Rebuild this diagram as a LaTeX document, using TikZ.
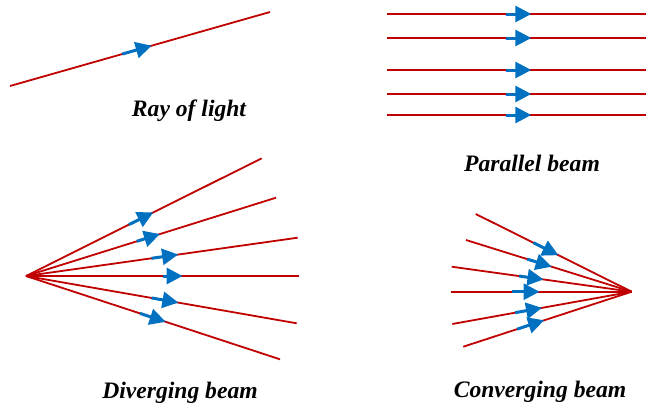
\documentclass[tikz,border=0pt]{standalone}
\usepackage{fontspec}
\setmainfont{Liberation Serif}
\usetikzlibrary{arrows.meta,calc}
\definecolor{rayred}{HTML}{C00000}
\definecolor{arrblue}{HTML}{0070C0}
\tikzset{
  ray/.style={draw=rayred, line width=1.8pt},
  dirarrow/.style={draw=arrblue, line width=3pt, -{Triangle[length=16pt,width=16pt]}},
  caption/.style={font=\fontsize{23.6}{26}\selectfont\bfseries\itshape, anchor=base, inner sep=0pt}
}
\newcommand{\raywitharrow}[4]{%
  % #1 start, #2 end, #3 tail fraction, #4 tip fraction
  \draw[ray] (#1) -- (#2);
  \draw[dirarrow] ($(#1)!#3!(#2)$) -- ($(#1)!#4!(#2)$);
}
\begin{document}
\begin{tikzpicture}[x=1pt,y=-1pt]
\useasboundingbox (0,0) rectangle (646,408);

% Ray of light
\coordinate (r0) at (10,86);
\coordinate (r1) at (270,12);
\raywitharrow{r0}{r1}{0.432}{0.545}
\node[caption] (lray) at (189,116.5) {Ray of light};

% Parallel beam
\foreach \i/\y in {1/14,2/38,3/70,4/94,5/115}{
  \coordinate (p\i a) at (387,\y);
  \coordinate (p\i b) at (646,\y);
  \raywitharrow{p\i a}{p\i b}{0.459}{0.557}
}
\node[caption] (lpar) at (532,171.5) {Parallel beam};

% Diverging beam
\coordinate (dA) at (26,276);
\coordinate (d1) at (261.7,158.3);
\coordinate (d2) at (276,197.7);
\coordinate (d3) at (297.7,237.7);
\coordinate (d4) at (299.3,276);
\coordinate (d5) at (296.7,323.3);
\coordinate (d6) at (280,359.3);
\raywitharrow{dA}{d1}{0.437}{0.54}
\raywitharrow{dA}{d2}{0.443}{0.536}
\raywitharrow{dA}{d3}{0.462}{0.56}
\raywitharrow{dA}{d4}{0.50}{0.573}
\raywitharrow{dA}{d5}{0.464}{0.563}
\raywitharrow{dA}{d6}{0.449}{0.55}
\node[caption] (ldiv) at (180,398) {Diverging beam};

% Converging beam
\coordinate (cA) at (631.7,291.7);
\coordinate (c1) at (475.7,214);
\coordinate (c2) at (466,240);
\coordinate (c3) at (451.7,266.7);
\coordinate (c4) at (451,291.7);
\coordinate (c5) at (452.3,324);
\coordinate (c6) at (463.3,346.7);
\raywitharrow{c1}{cA}{0.37}{0.53}
\raywitharrow{c2}{cA}{0.37}{0.517}
\raywitharrow{c3}{cA}{0.375}{0.51}
\raywitharrow{c4}{cA}{0.34}{0.49}
\raywitharrow{c5}{cA}{0.35}{0.50}
\raywitharrow{c6}{cA}{0.32}{0.48}
\node[caption] (lcon) at (540,397.5) {Converging beam};
\end{tikzpicture}
\end{document}
